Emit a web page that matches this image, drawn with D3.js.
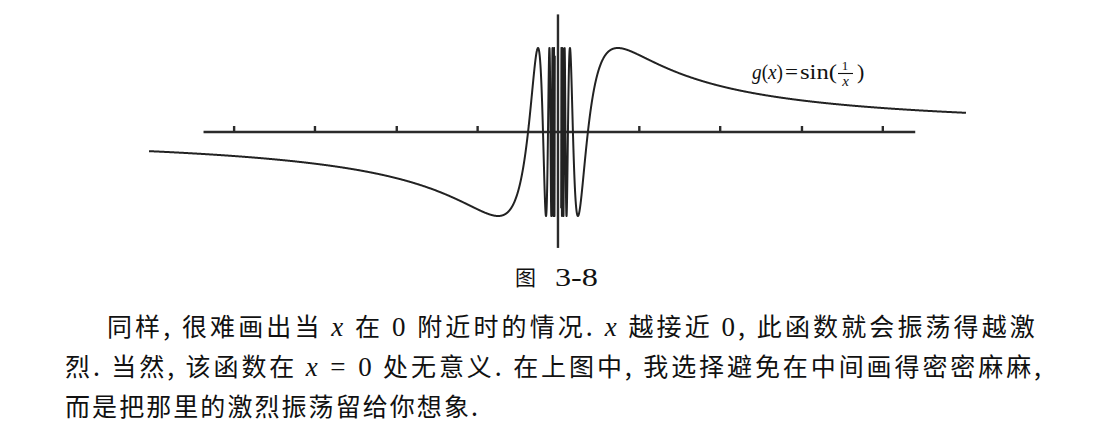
<!DOCTYPE html>
<html>
<head>
<meta charset="utf-8">
<script src="https://cdn.jsdelivr.net/npm/d3@7"></script>
<style>
html,body{margin:0;padding:0;background:#fff;}
svg{display:block;}
</style>
</head>
<body>
<svg id="chart" width="1120" height="446"></svg>
<script>
// ---- data ----
const xDomain = [-4.35, 4.34];          // plotted x-range of g(x)
const yDomain = [-1, 1];
const innerCutoff = 0.034;              // the dense oscillation is not drawn closer to 0
const tickValues = [-3.45, -2.59, -1.72, -0.86, 0.86, 1.72, 2.59, 3.45];
const xAxisExtent = [-3.77, 3.80];
const yAxisExtent = [-1.38, 1.40];
const funcLabel = "g(x) = sin(1/x)";
const captionLabel = ["图", "3-8"];
const paragraph = [
  [["同样, 很难画出当 ","c"],["x","m"],[" 在 ","c"],["0","r"],[" 附近时的情况. ","c"],["x","m"],[" 越接近 ","c"],["0","r"],[", 此函数就会振荡得越激","c"]],
  [["烈. 当然, 该函数在 ","c"],["x","m"],[" = ","r"],["0","r"],[" 处无意义. 在上图中, 我选择避免在中间画得密密麻麻,","c"]],
  [["而是把那里的激烈振荡留给你想象.","c"]]
];

const g = x => Math.sin(1 / x);

// ---- scales ----
const svg = d3.select("#chart");
const x = d3.scaleLinear().domain(xDomain).range([149, 966]);
const y = d3.scaleLinear().domain(yDomain).range([216, 48]);

// sample points: uniform in x and uniform in 1/x (for the oscillations)
function samples(lo, hi) {
  const pts = [];
  const n = 1200;
  for (let i = 0; i <= n; i++) pts.push(lo + (hi - lo) * i / n);
  const ulo = 1 / hi, uhi = 1 / lo;
  const m = 6000;
  for (let i = 0; i <= m; i++) pts.push(1 / (ulo + (uhi - ulo) * i / m));
  return pts.sort((a, b) => a - b);
}
const rightPts = samples(innerCutoff, xDomain[1]).map(v => [v, g(v)]);
const leftPts = samples(innerCutoff, -xDomain[0]).map(v => [-v, g(-v)]).sort((a, b) => a[0] - b[0]);

// ---- axes ----
const ink = "#2b2b2b";
const xAxis = d3.axisTop(x).tickValues(tickValues).tickSize(6).tickSizeOuter(0).tickFormat("");
const xa = svg.append("g").attr("transform", `translate(0,${y(0)})`).call(xAxis);
xa.select(".domain").remove();
xa.selectAll(".tick line").attr("stroke", ink).attr("stroke-width", 2.4);
xa.append("line")
  .attr("x1", x(xAxisExtent[0])).attr("x2", x(xAxisExtent[1]))
  .attr("y1", 0).attr("y2", 0)
  .attr("stroke", ink).attr("stroke-width", 2.6);

svg.append("line")
  .attr("x1", x(0)).attr("x2", x(0))
  .attr("y1", y(yAxisExtent[1])).attr("y2", y(yAxisExtent[0]))
  .attr("stroke", ink).attr("stroke-width", 2.4);

// ---- curve ----
const line = d3.line().x(d => x(d[0])).y(d => y(d[1]));
[leftPts, rightPts].forEach(pts => {
  svg.append("path").datum(pts)
    .attr("d", line)
    .attr("fill", "none")
    .attr("stroke", "#222")
    .attr("stroke-width", 2)
    .attr("stroke-linejoin", "round");
});

// ---- function label g(x) = sin(1/x) ----
const serif = "'Liberation Serif','DejaVu Serif',serif";
const lab = svg.append("g").attr("fill", "#111").style("font-family", serif);
const lb = 79;
lab.append("text").attr("x", 752).attr("y", lb).attr("font-size", 22)
  .attr("textLength", 31).attr("lengthAdjust", "spacingAndGlyphs")
  .html('<tspan font-style="italic">g</tspan>(<tspan font-style="italic">x</tspan>)');
lab.append("text").attr("x", 785).attr("y", lb).attr("font-size", 22)
  .attr("textLength", 13).attr("lengthAdjust", "spacingAndGlyphs").text("=");
lab.append("text").attr("x", 800).attr("y", lb).attr("font-size", 22)
  .attr("textLength", 37).attr("lengthAdjust", "spacingAndGlyphs").text("sin(");
lab.append("text").attr("x", 845).attr("y", 69.5).attr("font-size", 13).attr("text-anchor", "middle").text("1");
lab.append("line").attr("x1", 838).attr("x2", 853).attr("y1", 73.5).attr("y2", 73.5)
  .attr("stroke", "#111").attr("stroke-width", 1.1);
lab.append("text").attr("x", 845.5).attr("y", 85.5).attr("font-size", 15).attr("font-style", "italic")
  .attr("text-anchor", "middle").text("x");
lab.append("text").attr("x", 857).attr("y", lb).attr("font-size", 22).text(")");
lab.append("title").text(funcLabel);

// ---- caption ----
const cjk = "'Noto Sans CJK SC','Noto Sans CJK JP',sans-serif";
svg.append("text").attr("x", 515).attr("y", 285).attr("font-size", 21)
  .style("font-family", cjk).attr("fill", "#111").text(captionLabel[0]);
svg.append("text").attr("x", 555).attr("y", 286).attr("font-size", 26)
  .attr("textLength", 43).attr("lengthAdjust", "spacingAndGlyphs")
  .attr("font-family", "Liberation Serif").attr("fill", "#111").text(captionLabel[1]);

// ---- paragraph ----
const lineSpecs = [
  {x: 107, y: 336, end: 1038},
  {x: 65, y: 376, end: 1044},
  {x: 65, y: 416, end: 480}
];
paragraph.forEach((segs, i) => {
  const s = lineSpecs[i];
  const t = svg.append("text")
    .attr("x", s.x).attr("y", s.y)
    .attr("font-size", 25)
    .attr("fill", "#111")
    .attr("font-family", "Noto Sans CJK SC")
    .attr("xml:space", "preserve");
  let n = 0;
  segs.forEach(([txt, kind]) => {
    n += txt.length;
    const ts = t.append("tspan").text(txt);
    if (kind === "m") ts.attr("font-family", "Liberation Serif").attr("font-style", "italic").attr("font-size", 27);
    if (kind === "r") ts.attr("font-family", "Liberation Serif").attr("font-size", 27);
  });
  // fit the line to the printed width with letter spacing
  let ls = 0;
  for (let k = 0; k < 4; k++) {
    const bb = t.node().getBBox();
    const right = bb.x + bb.width;
    ls += (s.end - right) / Math.max(1, n - 1);
    t.style("letter-spacing", ls + "px");
  }
});
</script>
</body>
</html>
